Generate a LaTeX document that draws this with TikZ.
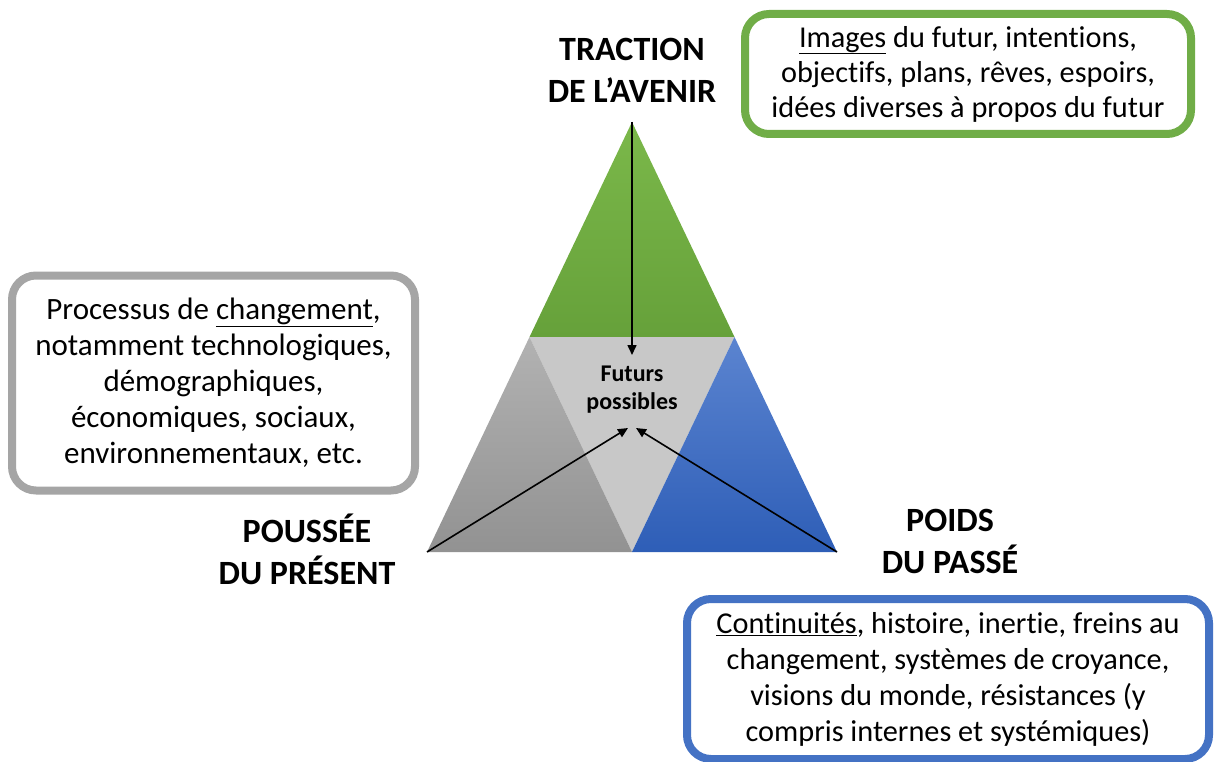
\documentclass[tikz,border=0pt]{standalone}
\usepackage{fontspec}
\setmainfont{Carlito}[Ligatures=NoCommon]
\usetikzlibrary{arrows.meta,calc}
\definecolor{grnA}{HTML}{7BB84A}
\definecolor{grnB}{HTML}{66A13A}
\definecolor{grnBox}{HTML}{70AD47}
\definecolor{gryA}{HTML}{B2B2B2}
\definecolor{gryB}{HTML}{929292}
\definecolor{gryMid}{HTML}{C8C8C8}
\definecolor{gryBox}{HTML}{A5A5A5}
\definecolor{bluA}{HTML}{5B84D0}
\definecolor{bluB}{HTML}{2E5EB7}
\definecolor{bluBox}{HTML}{4472C4}
\begin{document}
\begin{tikzpicture}[x=1pt,y=-1pt,
  lbl/.style={font=\bfseries\fontsize{34}{42}\selectfont, align=center, inner sep=0pt},
  smalllbl/.style={font=\bfseries\fontsize{24}{28}\selectfont, align=center, inner sep=0pt},
  txtbox/.style={rounded corners=24pt, line width=8pt, fill=white, align=center,
    font=\fontsize{31}{36}\selectfont, inner sep=0pt},
  arr/.style={line width=1.6pt, -{Triangle[length=10pt,width=9pt]}}
]
\useasboundingbox (0,0) rectangle (1215,762);
% triangle geometry
\coordinate (A) at (632,122);
\coordinate (L) at (427,552);
\coordinate (R) at (837,552);
\coordinate (ML) at ($(A)!0.5!(L)$);
\coordinate (MR) at ($(A)!0.5!(R)$);
\coordinate (MB) at (632,552);
\shade[top color=grnA, bottom color=grnB] (A) -- (ML) -- (MR) -- cycle;
\fill[gryMid] (ML) -- (MR) -- (MB) -- cycle;
\shade[top color=gryA, bottom color=gryB] (ML) -- (L) -- (MB) -- cycle;
\shade[top color=bluA, bottom color=bluB] (MR) -- (MB) -- (R) -- cycle;
% labels
\node[lbl] (trac) at (632,70) {TRACTION\\DE L’AVENIR};
\node[lbl] (pous) at (307,549) {POUSSÉE\\DU PRÉSENT};
\node[lbl] (poid) at (950,541) {POIDS\\DU PASSÉ};
\node[smalllbl] (fut) at (632,390) {Futurs\\possibles};
% arrows
\coordinate (T1) at (632,355);
\coordinate (T2) at (628,428);
\coordinate (T3) at (636,428);
\draw[arr] (A) -- (T1);
\draw[arr] (L) -- (T2);
\draw[arr] (R) -- (T3);
% boxes
\node[txtbox, draw=grnBox, minimum width=446pt, minimum height=120pt,
  font=\fontsize{30.3}{35}\selectfont] (gbox) at (968,74)
  {\underline{Images} du futur, intentions,\\objectifs, plans, rêves, espoirs,\\idées diverses à propos du futur};
\node[txtbox, draw=gryBox, minimum width=403pt, minimum height=215pt] (ybox) at (213.5,383)
  {Processus de \underline{changement},\\notamment technologiques,\\démographiques,\\économiques, sociaux,\\environnementaux, etc.};
\node[txtbox, draw=bluBox, minimum width=522pt, minimum height=160pt,
  font=\fontsize{30.3}{36}\selectfont] (bbox) at (948,679)
  {\underline{Continuités}, histoire, inertie, freins au\\changement, systèmes de croyance,\\visions du monde, résistances (y\\compris internes et systémiques)};
\end{tikzpicture}
\end{document}
